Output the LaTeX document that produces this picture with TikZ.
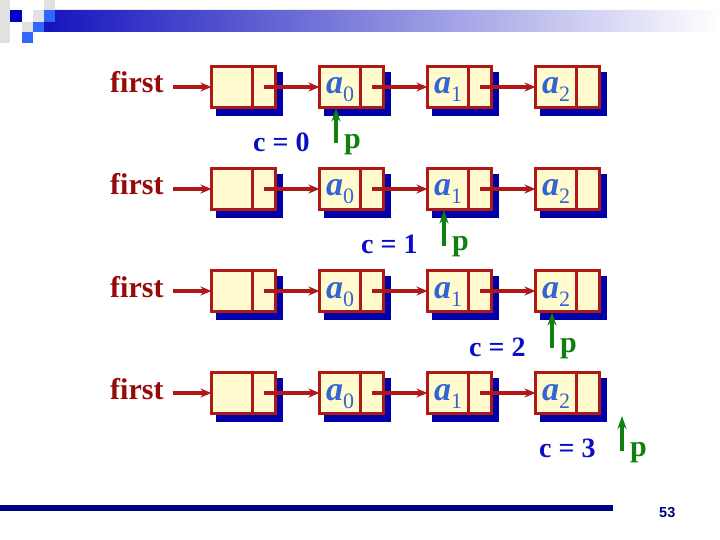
\documentclass[tikz,border=0pt]{standalone}
\usepackage{fontspec}
\setmainfont{Liberation Serif}
\newfontfamily\pgnum{Liberation Sans}
\usetikzlibrary{arrows.meta}
\definecolor{boxred}{RGB}{176,24,24}
\definecolor{firstred}{RGB}{150,10,10}
\definecolor{boxfill}{RGB}{255,251,206}
\definecolor{shadowblue}{RGB}{0,0,170}
\definecolor{cblue}{RGB}{12,12,200}
\definecolor{ablue}{RGB}{50,100,210}
\definecolor{pgreen}{RGB}{16,128,16}
\definecolor{barblue}{RGB}{20,20,190}
\definecolor{navyline}{RGB}{0,0,130}
\definecolor{sqblue}{RGB}{51,102,255}
\definecolor{sqdark}{RGB}{0,0,204}
\definecolor{sqgray}{RGB}{225,225,225}
\tikzset{
 cell/.style={draw=boxred, line width=3pt, fill=boxfill, inner sep=0pt, outer sep=0pt, minimum height=41pt},
 datacell/.style={cell, minimum width=41pt},
 ptrcell/.style={cell, minimum width=23pt},
 link/.style={draw=boxred, line width=3.4pt, -{Stealth[length=11pt,width=9pt]}},
 parrow/.style={draw=pgreen, line width=3.4pt, -{Stealth[length=13pt,width=9pt]}},
 firstlbl/.style={text=firstred, font=\fontsize{30}{30}\selectfont\bfseries, inner sep=0pt, anchor=base west},
 clbl/.style={text=cblue, font=\fontsize{28}{28}\selectfont\bfseries, inner sep=0pt, anchor=base west},
 plbl/.style={text=pgreen, font=\fontsize{30}{30}\selectfont\bfseries, inner sep=0pt, anchor=base west},
 elbl/.style={text=ablue, inner sep=0pt, anchor=base west},
}
\begin{document}
\begin{tikzpicture}[x=1pt,y=-1pt]
\useasboundingbox (0,0) rectangle (720,540);
% header decoration
\fill[sqgray] (0,0) rectangle (10,43);
\fill[sqgray] (44,0) rectangle (55,10);
\fill[sqgray] (33,10) rectangle (44,22);
\fill[sqgray] (22,22) rectangle (33,32);
\fill[sqdark] (10,10) rectangle (22,22);
\fill[sqblue] (44,10) rectangle (55,22);
\fill[sqblue] (33,22) rectangle (44,32);
\fill[sqblue] (22,32) rectangle (33,43);
\shade[left color=barblue, right color=white] (55,10) -- (720,10) -- (720,32) -- (44,32) -- (44,22) -- (55,22) -- cycle;
% footer
\fill[navyline] (0,505) rectangle (613,511);
\node[font=\pgnum\bfseries\fontsize{14.5}{15}\selectfont, text=navyline, anchor=base west, inner sep=0pt] (pg) at (659,517) {53};
% lists
\foreach \r in {0,...,3}{
  \pgfmathsetmacro\yy{87+102*\r}
  \foreach \i in {0,...,3}{
    \pgfmathsetmacro\xx{210+108*\i}
    \fill[shadowblue] (\xx+6,\yy-15) rectangle (\xx+73,\yy+29);
    \node[datacell] (d\r-\i) at (\xx+22,\yy) {};
    \node[ptrcell] (p\r-\i) at (\xx+54,\yy) {};
  }
  \foreach \i in {1,2,3}{
    \pgfmathsetmacro\xx{210+108*\i}
    \pgfmathtruncatemacro\n{\i-1}
    \node[elbl] (t\r-\i) at (\xx+8,\yy+7) {{\fontsize{34}{34}\selectfont\bfseries\itshape a}{\fontsize{22}{22}\selectfont\raisebox{-8pt}{\n}}};
  }
  \foreach \i [evaluate=\i as \j using int(\i+1)] in {0,1,2}{
    \draw[link] (p\r-\i.center) -- (d\r-\j.west);
  }
  \node[firstlbl] (f\r) at (110,\yy+6) {first};
  \draw[link] ([xshift=9pt]f\r.east |- d\r-0.west) -- (d\r-0.west);
}
% p pointers and counters
\foreach \r in {0,1,2}{
  \pgfmathtruncatemacro\k{\r+1}
  \coordinate (pt\r) at ([xshift=-4pt,yshift=-1pt]d\r-\k.south);
  \coordinate (pb\r) at ([xshift=-4pt,yshift=-36pt]d\r-\k.south);
  \node[clbl] (c\r) at (253+108*\r,152+102*\r) {c = \r};
}
\coordinate (pt3) at (622,416);
\coordinate (pb3) at (622,451);
\node[clbl] (c3) at (539,457) {c = 3};
\foreach \r in {0,...,3}{
  \draw[parrow] (pb\r) -- (pt\r);
  \node[plbl] (pl\r) at ([xshift=8pt,yshift=-5pt]pb\r) {p};
}
\end{tikzpicture}
\end{document}
